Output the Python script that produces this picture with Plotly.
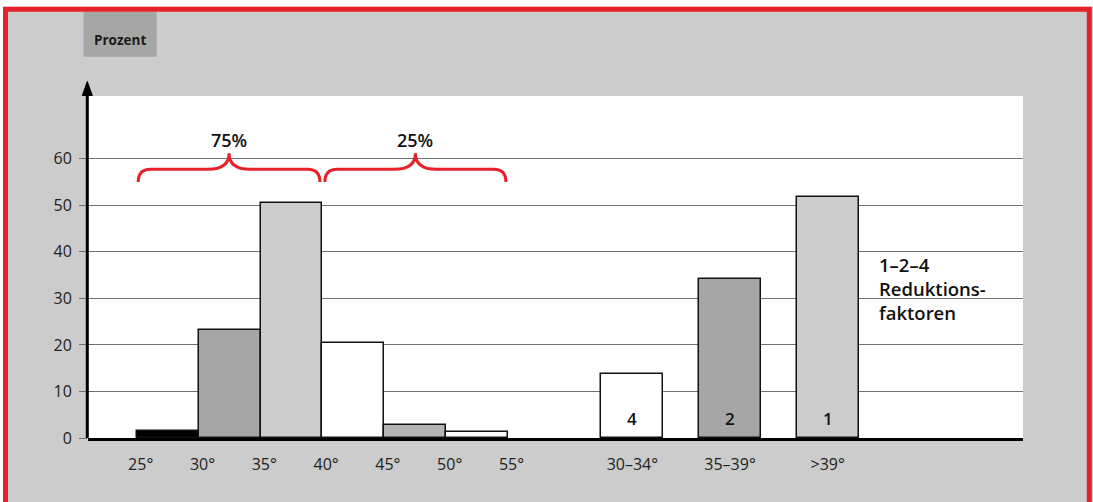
import plotly.graph_objects as go

# ---------------- data ----------------
left_bin_starts = [25, 30, 35, 40, 45, 50]
left_values = [1.4, 23.3, 50.4, 20.4, 2.9, 1.3]
left_colors = ["#000000", "#a6a6a6", "#cccccc", "#ffffff", "#b5b5b5", "#ffffff"]
left_tick_vals = [25, 30, 35, 40, 45, 50, 55]
left_tick_labels = ["25°", "30°", "35°", "40°", "45°", "50°", "55°"]

right_categories = ["30–34°", "35–39°", ">39°"]
right_values = [13.8, 34.1, 51.9]
right_colors = ["#ffffff", "#a6a6a6", "#cccccc"]
right_factor_labels = ["4", "2", "1"]

y_ticks = [0, 10, 20, 30, 40, 50, 60]
share_labels = ["75%", "25%"]
side_note = "1–2–4<br>Reduktions-<br>faktoren"
y_title = "Prozent"

# ---------------- geometry ----------------
W, H = 1093, 502
ML, MR, MT, MB = 88, 70, 96, 64
PW, PH = W - ML - MR, H - MT - MB
X_RANGE = [21.04, 96.68]
Y_RANGE = [0, 73.5]
BIN_W = 5
RIGHT_START, RIGHT_STEP = 65.08, 7.9
right_pos = [RIGHT_START + i * RIGHT_STEP for i in range(len(right_categories))]


def px_x(p):
    return (p - ML) / PW


def px_y(p):
    return (H - MB - p) / PH


FONT = "Open Sans, Noto Sans, Liberation Sans, sans-serif"
RED = "#e8202a"

fig = go.Figure()

fig.add_trace(go.Bar(
    x=[s + BIN_W / 2 for s in left_bin_starts], y=left_values, width=BIN_W,
    marker=dict(color=left_colors, line=dict(color="#111111", width=1.5)),
    hoverinfo="skip", showlegend=False,
))
fig.add_trace(go.Bar(
    x=right_pos, y=right_values, width=BIN_W,
    marker=dict(color=right_colors, line=dict(color="#111111", width=1.5)),
    hoverinfo="skip", showlegend=False,
))

shapes = []
# outer frame
shapes.append(dict(type="rect", xref="paper", yref="paper", layer="above",
                   x0=px_x(0), x1=px_x(W), y0=px_y(0), y1=px_y(6.8),
                   fillcolor="white", line=dict(width=0)))
shapes.append(dict(type="rect", xref="paper", yref="paper", layer="above",
                   x0=px_x(0), x1=px_x(3), y0=px_y(0), y1=px_y(H + 10),
                   fillcolor="white", line=dict(width=0)))
shapes.append(dict(type="rect", xref="paper", yref="paper", layer="above",
                   x0=px_x(5.5), x1=px_x(1089.3), y0=px_y(9.3), y1=px_y(H + 20),
                   line=dict(color=RED, width=5)))
# "Prozent" box
shapes.append(dict(type="rect", xref="paper", yref="paper", layer="below",
                   x0=px_x(83.5), x1=px_x(156.7), y0=px_y(11.8), y1=px_y(56.7),
                   fillcolor="#a6a6a6", line=dict(width=0)))
# y axis arrow
xc = px_x(87.3)
shapes.append(dict(type="line", xref="paper", yref="paper", layer="above",
                   x0=xc, x1=xc, y0=px_y(438), y1=px_y(92),
                   line=dict(color="black", width=3)))
hw = 5 / PW
shapes.append(dict(type="path", xref="paper", yref="paper", layer="above",
                   path=f"M {xc - hw},{px_y(95.5)} L {xc},{px_y(81.5)} L {xc + hw},{px_y(95.5)} Z",
                   fillcolor="black", line=dict(color="black", width=1)))


def brace(x0, x1, yb, yt, yp, r=1.0, r2=1.7):
    xm = (x0 + x1) / 2
    ym = yt + (yp - yt) * 0.35
    return (f"M {x0},{yb} Q {x0},{yt} {x0 + r},{yt} L {xm - r2},{yt} "
            f"C {xm - 0.35 * r2},{yt} {xm},{ym} {xm},{yp} "
            f"C {xm},{ym} {xm + 0.35 * r2},{yt} {xm + r2},{yt} "
            f"L {x1 - r},{yt} Q {x1},{yt} {x1},{yb}")


for bx0, bx1 in [(25.1, 39.8), (40.2, 54.85)]:
    shapes.append(dict(type="path", xref="x", yref="y", layer="above",
                       path=brace(bx0, bx1, 55.0, 57.75, 61.2),
                       line=dict(color=RED, width=3)))

annotations = []
annotations.append(dict(xref="paper", yref="paper", x=px_x(120), y=px_y(40),
                        xanchor="center", yanchor="middle",
                        text=f"<b>{y_title}</b>", showarrow=False,
                        font=dict(family=FONT, size=13.5, color="#1a1a1a")))
for lbl, cx in zip(share_labels, [32.45, 47.5]):
    annotations.append(dict(xref="x", yref="y", x=cx, y=64.0, text=lbl,
                            xanchor="center", yanchor="middle", showarrow=False,
                            font=dict(family=FONT, size=18, color="#111111", weight=600)))
for lbl, cx in zip(right_factor_labels, right_pos):
    annotations.append(dict(xref="x", yref="y", x=cx, y=4.2, text=lbl,
                            xanchor="center", yanchor="middle", showarrow=False,
                            font=dict(family=FONT, size=17, color="#111111", weight=600)))
annotations.append(dict(xref="x", yref="y", x=84.9, y=32.2, text=side_note,
                        xanchor="left", yanchor="middle", align="left", showarrow=False,
                        font=dict(family=FONT, size=18.5, color="#111111", weight=600)))

fig.update_layout(
    width=W, height=H,
    margin=dict(l=ML, r=MR, t=MT, b=MB, pad=0),
    paper_bgcolor="#cccccc", plot_bgcolor="white",
    bargap=0, showlegend=False,
    font=dict(family=FONT, size=16, color="#222222"),
    shapes=shapes, annotations=annotations,
    xaxis=dict(range=X_RANGE, showgrid=False, zeroline=False,
               showline=True, linecolor="black", linewidth=2.5,
               tickvals=[v + 0.3 for v in left_tick_vals] + right_pos,
               ticktext=left_tick_labels + right_categories,
               ticks="outside", ticklen=10, tickcolor="rgba(0,0,0,0)",
               tickfont=dict(family=FONT, size=16, color="#222222")),
    yaxis=dict(range=Y_RANGE, tickvals=y_ticks, showgrid=True,
               gridcolor="#707070", gridwidth=1, zeroline=False,
               showline=False, ticks="outside", ticklen=8, tickcolor="#707070",
               ticklabelstandoff=4,
               tickfont=dict(family=FONT, size=16, color="#222222")),
)

fig.write_html("out.html", config={"displayModeBar": False},
               post_script="document.body.style.margin='0';")
